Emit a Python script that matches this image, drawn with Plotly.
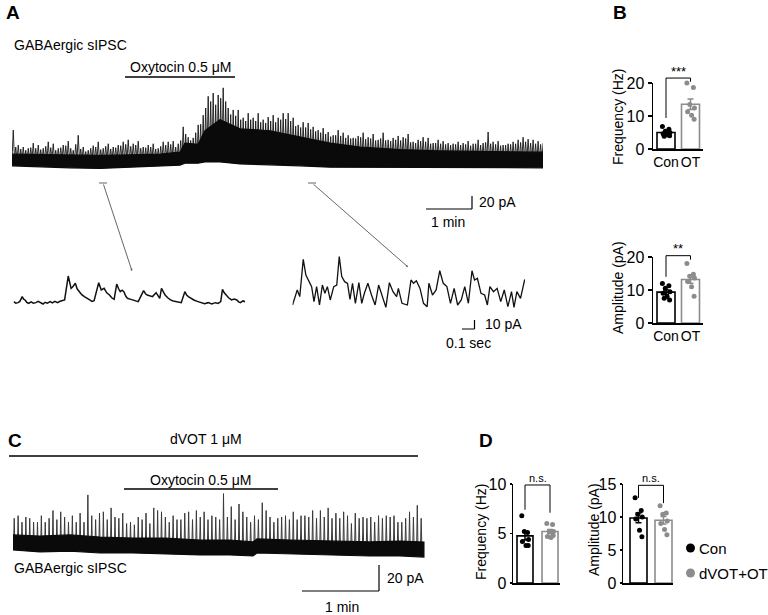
import numpy as np
import plotly.graph_objects as go

W, H = 768, 615
FONT = "Liberation Sans, Arial, Helvetica, sans-serif"
BLACK = "#000000"
GRAY = "#8c8c8c"

# ======================= DATA =======================
# Panel A overview trace: sampled event peaks (pA above baseline), one every a_dt s
a_dt = 6.52
a_spike_top = [46, 23, 20, 18, 26, 23, 18, 28, 25, 18,
               23, 29, 15, 38, 20, 15, 22, 28, 18, 25,
               20, 23, 28, 31, 25, 29, 20, 23, 25, 18,
               28, 28, 29, 25, 51, 35, 34, 54, 69, 98,
               103, 100, 111, 80, 77, 77, 65, 72, 65, 72,
               62, 66, 69, 65, 72, 72, 65, 54, 58, 57,
               51, 46, 49, 43, 38, 46, 42, 38, 34, 37,
               42, 35, 40, 31, 42, 31, 34, 37, 35, 40,
               28, 31, 35, 34, 26, 31, 29, 26, 25, 28,
               26, 29, 25, 31, 26, 43, 28, 29, 23, 25,
               28, 31, 35, 32, 31, 29, 26]
# smaller events lying between the sampled peaks above (pA)
a_spike_mid = [20, 17, 15, 19, 18, 16, 21, 19, 15, 19,
               22, 18, 24, 17, 13, 18, 20, 16, 21, 17,
               19, 22, 24, 21, 23, 18, 19, 20, 17, 21,
               23, 24, 20, 30, 40, 30, 42, 55, 80, 90,
               85, 95, 90, 70, 68, 62, 60, 62, 60, 58,
               57, 60, 58, 62, 63, 60, 52, 50, 50, 47,
               44, 42, 40, 36, 38, 37, 34, 33, 33, 35,
               32, 33, 30, 33, 30, 29, 31, 30, 33, 27,
               26, 29, 28, 25, 26, 25, 24, 23, 24, 23,
               24, 22, 25, 23, 27, 25, 24, 22, 23, 24,
               25, 27, 28, 26, 25, 24]
# dense noise band of panel A (time s, upper / lower edge pA)
a_core_t = [0, 36.5, 75.7, 114.8, 153.9, 193.0, 219.1, 225.6, 242.6, 251.7,
            271.3, 297.4, 336.5, 375.7, 414.8, 453.9, 506.1, 558.3, 610.4, 692.6]
a_core_hi = [9, 8, 7, 7, 8, 9, 12, 26, 24, 45, 62, 48, 45, 36, 26, 20, 16, 14, 13, 12]
a_core_lo = [-9, -11, -12, -13, -11, -9, -8, -5, -5, -3, -3, -6, -8, -9, -11, -11, -12, -12, -12, -12]
a_oxt = [147.4, 290.9]          # oxytocin application (s)

# Panel A expanded traces (time s, current pA)
ins_l_t = [0.000, 0.018, 0.035, 0.050, 0.069, 0.080, 0.092, 0.105, 0.121, 0.140,
           0.158, 0.178, 0.196, 0.215, 0.236, 0.252, 0.270, 0.293, 0.310, 0.330,
           0.351, 0.372, 0.394, 0.408, 0.437, 0.448, 0.460, 0.472, 0.494, 0.508,
           0.523, 0.545, 0.566, 0.588, 0.609, 0.627, 0.644, 0.681, 0.701, 0.724,
           0.745, 0.767, 0.785, 0.804, 0.825, 0.840, 0.853, 0.868, 0.882, 0.897,
           0.911, 0.932, 0.954, 0.975, 0.997, 1.040, 1.055, 1.069, 1.090, 1.111,
           1.140, 1.155, 1.169, 1.183, 1.198, 1.212, 1.233, 1.255, 1.277, 1.298,
           1.320, 1.341, 1.370, 1.384, 1.398, 1.420, 1.442, 1.470, 1.499, 1.528,
           1.557, 1.585, 1.614, 1.636, 1.657, 1.671, 1.685, 1.700, 1.720, 1.743,
           1.765, 1.786, 1.800, 1.815, 1.835, 1.853]
ins_l_i = [3.7, 2.0, 2.6, 4.0, 9.3, 6.5, 5.6, 3.0, 1.9, 3.5,
           2.0, 2.6, 4.0, 2.2, 1.1, 3.0, 2.0, 3.7, 2.4, 4.1,
           2.6, 4.2, 5.6, 5.6, 32.2, 24.0, 18.5, 20.0, 24.1, 18.0,
           14.8, 11.5, 9.3, 7.0, 5.6, 4.0, 4.8, 24.8, 16.7, 18.5,
           13.5, 11.1, 8.0, 6.3, 23.3, 18.0, 14.8, 16.5, 14.8, 10.0,
           7.4, 6.5, 5.6, 4.0, 3.7, 15.9, 12.5, 11.1, 10.0, 9.3,
           13.7, 9.5, 7.4, 18.5, 14.0, 11.1, 8.0, 5.6, 4.5, 3.7,
           3.0, 2.6, 14.8, 11.0, 9.3, 7.0, 5.6, 4.0, 2.9, 1.5,
           2.6, 1.2, 2.6, 1.8, 3.7, 17.4, 13.5, 11.1, 8.0, 5.6,
           6.5, 5.6, 3.5, 2.6, 4.5, 3.7]
ins_r_t = [0.000, 0.020, 0.038, 0.058, 0.086, 0.107, 0.130, 0.153, 0.172, 0.193,
           0.216, 0.239, 0.259, 0.279, 0.302, 0.330, 0.354, 0.374, 0.394, 0.417,
           0.440, 0.460, 0.480, 0.503, 0.531, 0.554, 0.575, 0.603, 0.632, 0.661,
           0.689, 0.718, 0.747, 0.775, 0.804, 0.833, 0.847, 0.876, 0.919, 0.948,
           0.968, 0.991, 1.020, 1.048, 1.077, 1.091, 1.120, 1.149, 1.178, 1.206,
           1.235, 1.264, 1.293, 1.321, 1.350, 1.378, 1.407, 1.436, 1.456, 1.479,
           1.508, 1.537, 1.559, 1.579, 1.608, 1.637, 1.666, 1.694, 1.723, 1.752,
           1.772, 1.795, 1.824, 1.858]
ins_r_i = [0, 9.3, 16.7, 9.3, 50.7, 33.3, 25.9, 20.4, 3.7, 20.4,
           0, 22.2, 13.0, 20.4, 5.6, 20.4, 22.2, 53.7, 31.5, 25.9,
           24.1, 6.3, 24.1, 1.9, 24.8, 1.9, 13.0, 24.1, 11.1, 0,
           22.2, 9.3, -2.6, 24.8, 14.8, 9.3, 18.5, 1.9, 0, 27.8,
           24.1, 27.0, 18.5, 1.9, -1.9, 24.1, 11.1, 16.7, 38.1, 24.1,
           20.4, 1.9, 18.5, 0, 5.6, 20.4, 1.9, 38.1, 27.8, 29.6,
           13.0, 11.1, 0, 20.4, 14.8, 18.5, 3.7, 16.7, -1.9, 14.8,
           -2.6, 14.8, 7.4, 28.5]

# Panel C trace: sampled event peaks (pA), one every c_dt s
c_dt = 3.02
c_t0 = 0.5
c_spike_top = [19, 21, 16, 20, 19, 16, 16, 21, 16, 19,
               25, 18, 24, 20, 16, 21, 16, 23, 16, 37,
               21, 18, 23, 24, 18, 27, 20, 19, 23, 15,
               16, 14, 20, 18, 23, 15, 27, 25, 24, 20,
               16, 21, 18, 18, 23, 24, 18, 25, 20, 24,
               18, 21, 20, 18, 38, 20, 28, 18, 30, 24,
               20, 16, 21, 18, 31, 25, 20, 16, 19, 20,
               21, 18, 24, 18, 21, 21, 20, 25, 19, 25,
               20, 27, 19, 23, 19, 24, 21, 15, 23, 19,
               20, 19, 20, 16, 21, 19, 21, 20, 21, 16,
               16, 19, 24, 20, 29, 19]
c_core_t = [0, 21.0, 44.4, 67.8, 93.5, 118.4, 145.7, 169.1, 187.0, 190.1,
            215.8, 247.0, 278.1, 301.5, 320.2]
c_core_hi = [6.2, 5.4, 6.2, 4.6, 3.8, 3.8, 2.3, 2.3, 0.8, 3.1, 2.3, 1.5, 0.8, 1.5, 0.8]
c_core_lo = [-5.4, -6.9, -6.2, -7.7, -7.7, -8.5, -9.2, -9.2, -10.0, -7.7,
             -8.5, -9.2, -10.0, -10.0, -10.8]
c_dvot = [-3.1, 315.6]          # dVOT application (s)
c_oxt = [86.5, 206.5]           # oxytocin application (s)

groups = ["Con", "OT"]
b_freq_con = [6.8, 6.0, 5.4, 5.0, 4.6, 4.3, 4.0, 3.9]
b_freq_ot = [20.0, 18.6, 13.5, 12.4, 11.3, 10.2, 9.0]
b_amp_con = [12.0, 11.3, 10.5, 9.5, 9.0, 8.0, 7.0, 7.5]
b_amp_ot = [18.0, 14.8, 14.2, 13.6, 12.6, 11.0, 8.1]
d_freq_con = [6.8, 5.1, 5.2, 4.4, 4.2, 3.8, 3.8]
d_freq_ot = [6.0, 5.9, 5.2, 5.2, 4.7, 4.6, 4.8]
d_amp_con = [12.9, 11.0, 10.4, 10.0, 9.7, 8.0, 7.0]
d_amp_ot = [11.7, 10.6, 10.4, 9.4, 9.0, 8.1, 7.3]

# ======================= LAYOUT HELPERS =======================
def px(x):
    return x / W


def py(y):
    return 1 - y / H


fig = go.Figure()
AX = {}
layout = {}


def name(n, a):
    return a if n == 1 else f"{a}{n}"


def add_axes(n, xpx, ypx, xr, yr, xkw=None, ykw=None):
    xd = [px(xpx[0]), px(xpx[1])]
    yd = [py(ypx[0]), py(ypx[1])]
    AX[n] = dict(xd=xd, yd=yd, xr=xr, yr=yr)
    xa = dict(domain=xd, range=xr, anchor=name(n, "y"), fixedrange=True, visible=False, automargin=False)
    ya = dict(domain=yd, range=yr, anchor=name(n, "x"), fixedrange=True, visible=False, automargin=False)
    if xkw:
        xa.update(xkw)
    if ykw:
        ya.update(ykw)
    layout[name(n, "xaxis")] = xa
    layout[name(n, "yaxis")] = ya


def to_paper(n, x, y):
    a = AX[n]
    xp = a["xd"][0] + (x - a["xr"][0]) / (a["xr"][1] - a["xr"][0]) * (a["xd"][1] - a["xd"][0])
    yp = a["yd"][0] + (y - a["yr"][0]) / (a["yr"][1] - a["yr"][0]) * (a["yd"][1] - a["yd"][0])
    return xp, yp


shapes = []
annots = []


def txt(x, y, s, size=14, xanchor="left", angle=0, color=BLACK):
    annots.append(dict(x=px(x), y=py(y), xref="paper", yref="paper", text=s, showarrow=False,
                       xanchor=xanchor, yanchor="middle", textangle=angle,
                       font=dict(family=FONT, size=size, color=color)))


def dline(n, x0, y0, x1, y1, width=1.3, color=BLACK):
    shapes.append(dict(type="line", xref=name(n, "x"), yref=name(n, "y"),
                       x0=x0, y0=y0, x1=x1, y1=y1, line=dict(color=color, width=width)))


def pline(x0, y0, x1, y1, width=1, color=BLACK):
    shapes.append(dict(type="line", xref="paper", yref="paper",
                       x0=px(x0), y0=py(y0), x1=px(x1), y1=py(y1),
                       line=dict(color=color, width=width)))


def spikes(n, t0, dt, tops, color, width, frac=0.3):
    xs, ys = [], []
    for k, top in enumerate(tops):
        t = t0 + k * dt
        xs += [t, t + frac * 0.5 * dt, t + frac * dt, None]
        ys += [0, top, 0, None]
    fig.add_trace(go.Scatter(x=xs, y=ys, mode="lines", line=dict(color=color, width=width),
                             xaxis=name(n, "x"), yaxis=name(n, "y"), hoverinfo="skip",
                             showlegend=False))


def zigzag(n, dt, tops, mids, color, width):
    # continuous trace: baseline -> large event -> baseline -> small event -> ...
    xs, ys = [], []
    for k, top in enumerate(tops):
        t = k * dt
        xs += [t, t + 0.25 * dt]
        ys += [0, top]
        if k < len(mids):
            xs += [t + 0.5 * dt, t + 0.75 * dt]
            ys += [0, mids[k]]
    fig.add_trace(go.Scatter(x=xs, y=ys, mode="lines", line=dict(color=color, width=width),
                             xaxis=name(n, "x"), yaxis=name(n, "y"), hoverinfo="skip",
                             showlegend=False))


def band(n, t, hi, lo):
    fig.add_trace(go.Scatter(x=list(t) + list(t)[::-1], y=list(hi) + list(lo)[::-1],
                             mode="lines", fill="toself", fillcolor="#0a0a0a",
                             line=dict(color="#0a0a0a", width=1.2),
                             xaxis=name(n, "x"), yaxis=name(n, "y"), hoverinfo="skip",
                             showlegend=False))


# ---------------- Panel A overview ----------------
A_PPM, A_PP20 = 46.0, 13.0           # px per minute, px per 20 pA
A_BASE = 160
add_axes(1, (12, 543), (215, 60),
         [0, (543 - 12) / A_PPM * 60],
         [-(215 - A_BASE) / A_PP20 * 20, (A_BASE - 60) / A_PP20 * 20])
zigzag(1, a_dt, a_spike_top, a_spike_mid, "#161616", 0.9)
band(1, a_core_t, a_core_hi, a_core_lo)
oxt_y = (A_BASE - 77) / A_PP20 * 20
dline(1, a_oxt[0], oxt_y, a_oxt[1], oxt_y, 1.5)
sb_t, sb_i = 600, -(209 - A_BASE) / A_PP20 * 20
dline(1, sb_t - 60, sb_i, sb_t, sb_i, 1.2)
dline(1, sb_t, sb_i, sb_t, sb_i + 20, 1.2)

# ---------------- Panel A expanded traces ----------------
I_PPS, I_PP10, I_BASE = 125.0, 9.0, 305     # px per second, px per 10 pA
yr_ins = [-(345 - I_BASE) / I_PP10 * 10, (I_BASE - 245) / I_PP10 * 10]
add_axes(2, (13.6, 245), (345, 245), [0, (245 - 13.6) / I_PPS], yr_ins)
add_axes(3, (292.5, 525), (345, 245), [0, (525 - 292.5) / I_PPS], yr_ins)
fig.add_trace(go.Scatter(x=ins_l_t, y=ins_l_i, mode="lines", line=dict(color="#111", width=1.5),
                         xaxis="x2", yaxis="y2", hoverinfo="skip", showlegend=False))
fig.add_trace(go.Scatter(x=ins_r_t, y=ins_r_i, mode="lines", line=dict(color="#111", width=1.3),
                         xaxis="x3", yaxis="y3", hoverinfo="skip", showlegend=False))
isb_t, isb_i = (474.5 - 292.5) / I_PPS, -(329 - I_BASE) / I_PP10 * 10
dline(3, isb_t - 0.1, isb_i, isb_t, isb_i, 1.2)
dline(3, isb_t, isb_i, isb_t, isb_i + 10, 1.2)

# ---------------- Panel C trace ----------------
C_PPM, C_PP20, C_BASE = 77.0, 26.0, 543
add_axes(4, (5, 430), (600, 440),
         [(5 - 13) / C_PPM * 60, (430 - 13) / C_PPM * 60],
         [-(600 - C_BASE) / C_PP20 * 20, (C_BASE - 440) / C_PP20 * 20])
spikes(4, c_t0, c_dt, c_spike_top, "#3a3a3a", 1.0)
band(4, c_core_t, c_core_hi, c_core_lo)
dv_y = (C_BASE - 456) / C_PP20 * 20
dline(4, c_dvot[0], dv_y, c_dvot[1], dv_y, 1.5)
ox_y = (C_BASE - 489) / C_PP20 * 20
dline(4, c_oxt[0], ox_y, c_oxt[1], ox_y, 1.5)
csb_t, csb_i = (379 - 13) / C_PPM * 60, -(591 - C_BASE) / C_PP20 * 20
dline(4, csb_t - 60, csb_i, csb_t, csb_i, 1.2)
dline(4, csb_t, csb_i, csb_t, csb_i + 20, 1.2)

# ---------------- Bar panels ----------------
JIT = [-0.2, 0.16, -0.04, 0.22, -0.16, 0.06, 0.2, -0.1]


def bar_axes(n, xpx, ypx, xr, ymax, dtick, show_x, ticklen):
    xkw = dict(visible=True, showline=True, linecolor=BLACK, linewidth=1.5, ticks="",
               showgrid=False, zeroline=False, tickvals=[0, 1], ticktext=groups, tickangle=0,
               showticklabels=show_x, tickfont=dict(family=FONT, size=14, color=BLACK))
    ykw = dict(visible=True, showline=True, linecolor=BLACK, linewidth=1.5, ticks="outside",
               ticklen=ticklen, tickwidth=1.3, tickcolor=BLACK, showgrid=False, zeroline=False,
               tickvals=list(np.arange(0, ymax + 0.01, dtick)), tickangle=0,
               tickfont=dict(family=FONT, size=16, color=BLACK))
    add_axes(n, xpx, ypx, xr, [0, ymax], xkw, ykw)


def bar_group(n, vals, idx, color, bw):
    v = np.array(vals, dtype=float)
    m = v.mean()
    sem = v.std(ddof=1) / np.sqrt(len(v))
    fig.add_trace(go.Bar(x=[idx], y=[m], width=[bw], marker=dict(color="white", line=dict(color=color, width=1.6)),
                         error_y=dict(type="data", array=[sem], color=color, thickness=1.5, width=3),
                         xaxis=name(n, "x"), yaxis=name(n, "y"), hoverinfo="skip", showlegend=False))
    fig.add_trace(go.Scatter(x=[idx + JIT[i % len(JIT)] * bw for i in range(len(v))], y=v, mode="markers",
                             marker=dict(color=color, size=5), cliponaxis=False,
                             xaxis=name(n, "x"), yaxis=name(n, "y"), hoverinfo="skip", showlegend=False))


def bracket(n, ytop, yl, yr_, label, size, lab_dy):
    x0, yt = to_paper(n, 0, ytop)
    x1, _ = to_paper(n, 1, ytop)
    _, ylp = to_paper(n, 0, yl)
    _, yrp = to_paper(n, 1, yr_)
    shapes.append(dict(type="path", xref="paper", yref="paper",
                       path=f"M{x0},{ylp} L{x0},{yt} L{x1},{yt} L{x1},{yrp}",
                       line=dict(color=BLACK, width=1)))
    annots.append(dict(x=(x0 + x1) / 2, y=yt + lab_dy / H, xref="paper", yref="paper", text=label,
                       showarrow=False, xanchor="center", yanchor="middle",
                       font=dict(family=FONT, size=size, color=BLACK)))


# B frequency
bar_axes(5, (653, 703), (149, 83), [-13 / 24.5, 1 + 12.5 / 24.5], 20, 10, True, 4)
bar_group(5, b_freq_con, 0, BLACK, 0.735)
bar_group(5, b_freq_ot, 1, GRAY, 0.735)
bracket(5, 21.5, 9.4, 20.4, "***", 13, 7)
# B amplitude
bar_axes(6, (653, 703), (323, 257), [-13 / 24.5, 1 + 12.5 / 24.5], 20, 10, True, 4)
bar_group(6, b_amp_con, 0, BLACK, 0.735)
bar_group(6, b_amp_ot, 1, GRAY, 0.735)
bracket(6, 20.4, 14.0, 19.2, "**", 13, 7)
# D frequency
bar_axes(7, (513, 560), (583, 484), [-0.48, 1.4], 10, 5, False, 2)
bar_group(7, d_freq_con, 0, BLACK, 0.64)
bar_group(7, d_freq_ot, 1, GRAY, 0.64)
bracket(7, 9.9, 7.4, 7.1, "n.s.", 11, 7)
# D amplitude
bar_axes(8, (623, 673), (583, 484), [-0.62, 1.38], 15, 5, False, 2)
bar_group(8, d_amp_con, 0, BLACK, 0.68)
bar_group(8, d_amp_ot, 1, GRAY, 0.68)
bracket(8, 14.8, 12.9, 12.1, "n.s.", 11, 7)

# ---------------- Texts ----------------
txt(4, 12, "<b>A</b>", 19)
txt(611, 12, "<b>B</b>", 19)
txt(6, 440, "<b>C</b>", 19)
txt(477, 440, "<b>D</b>", 19)
txt(12, 45, "GABAergic sIPSC", 14)
txt(180, 67, "Oxytocin 0.5 μM", 14, "center")
txt(477, 202, "20 pA", 14)
txt(448, 222, "1 min", 14, "center")
txt(483, 324, "10 pA", 14)
txt(444, 343, "0.1 sec", 14)
txt(206, 439, "dVOT 1 μM", 14, "center")
txt(200, 480, "Oxytocin 0.5 μM", 14, "center")
txt(12, 568, "GABAergic sIPSC", 14)
txt(385, 578, "20 pA", 14)
txt(342, 607, "1 min", 14, "center")
txt(618, 117, "Frequency (Hz)", 14, "center", -90)
txt(618, 288, "Amplitude (pA)", 14, "center", -90)
txt(481, 532, "Frequency (Hz)", 14, "center", -90)
txt(594, 530, "Amplitude (pA)", 14, "center", -90)
txt(697, 548, "Con", 15)
txt(697, 573, "dVOT+OT", 15)
shapes.append(dict(type="circle", xref="paper", yref="paper", x0=px(686), x1=px(695), y0=py(552.5), y1=py(543.5),
                   fillcolor=BLACK, line=dict(width=0)))
shapes.append(dict(type="circle", xref="paper", yref="paper", x0=px(686), x1=px(695), y0=py(577.5), y1=py(568.5),
                   fillcolor=GRAY, line=dict(width=0)))

# arrows from overview to expanded traces
for (sx, sy, ex, ey) in [(103, 183, 132, 271), (312, 183, 408, 267)]:
    pline(sx - 4, sy, sx + 4, sy, 0.9, "#555")
    annots.append(dict(x=px(ex), y=py(ey), xref="paper", yref="paper", text="", showarrow=True,
                       ax=sx - ex, ay=sy - ey, axref="pixel", ayref="pixel",
                       arrowhead=2, arrowsize=0.5, arrowwidth=0.9, arrowcolor="#555"))

fig.update_layout(template="none", width=W, height=H, margin=dict(l=0, r=0, t=0, b=0, pad=0),
                  paper_bgcolor="white", plot_bgcolor="rgba(0,0,0,0)",
                  barmode="overlay", showlegend=False, font=dict(family=FONT, color=BLACK),
                  hovermode=False, shapes=shapes, annotations=annots, **layout)
fig.write_html("out.html", config={"displayModeBar": False, "staticPlot": True},
               post_script="document.body.style.margin='0px';document.body.style.padding='0px';"
                           "document.documentElement.style.overflow='hidden';")
